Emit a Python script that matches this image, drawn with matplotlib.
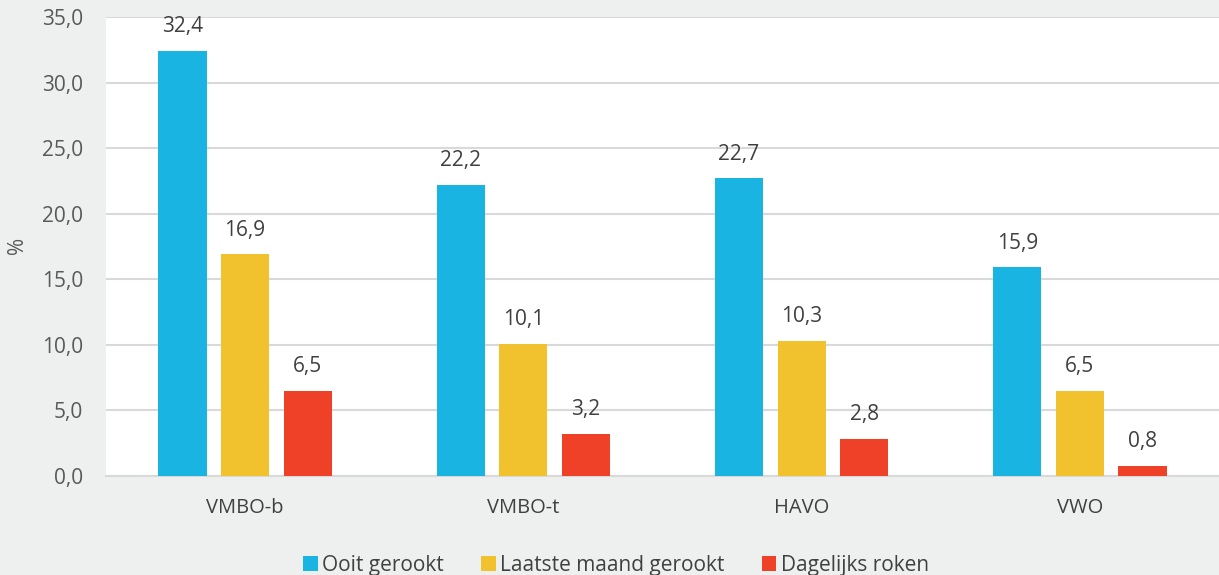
import matplotlib
matplotlib.use("Agg")
import matplotlib.pyplot as plt
import numpy as np

categories = ["VMBO-b", "VMBO-t", "HAVO", "VWO"]
series_names = ["Ooit gerookt", "Laatste maand gerookt", "Dagelijks roken"]
ooit = [32.4, 22.2, 22.7, 15.9]
laatste = [16.9, 10.1, 10.3, 6.5]
dagelijks = [6.5, 3.2, 2.8, 0.8]
colors = ["#1ab4e3", "#f1c22e", "#ef4127"]
yticks = [0, 5, 10, 15, 20, 25, 30, 35]

plt.rcParams['font.family'] = ['Open Sans', 'DejaVu Sans']
txt = "#595959"
dark = "#404040"
bg = "#eef0ef"
fs = 15

fig = plt.figure(figsize=(12.19, 5.75), dpi=100, facecolor=bg)
ax = fig.add_axes([106/1219, 1 - 476/575, 1 - 106/1219, (476 - 17)/575])
ax.set_facecolor("white")

x = np.arange(len(categories))
w = 0.173
step = 0.225
for i, (vals, name) in enumerate(zip([ooit, laatste, dagelijks], series_names)):
    pos = x + (i - 1) * step
    ax.bar(pos, vals, width=w, color=colors[i], label=name, zorder=3)
    for p, v in zip(pos, vals):
        ax.annotate(f"{v:.1f}".replace(".", ","), xy=(p, v), xytext=(0, 17.5),
                    textcoords="offset points", ha="center", va="center",
                    fontsize=fs, color=dark, annotation_clip=False)

ax.set_xlim(-0.5, 3.5)
ax.set_ylim(0, 35)
ax.set_yticks(yticks)
ax.set_yticklabels([f"{t:.1f}".replace(".", ",") for t in yticks], fontsize=fs, color=txt)
ax.set_xticks(x)
ax.set_xticklabels(categories, fontsize=14.5, color=dark)
ax.tick_params(axis="both", length=0)
ax.tick_params(axis="y", pad=16.5)
ax.tick_params(axis="x", pad=16)
ax.grid(axis="y", color="#d9d9d9", linewidth=1.5, zorder=0)
ax.set_axisbelow(True)
for s in ["left", "right", "top"]:
    ax.spines[s].set_visible(False)
ax.spines["bottom"].set_color("#d9d9d9")
ax.spines["bottom"].set_linewidth(1.5)

fig.text(18/1219, 1 - 245/575, "%", rotation=90, ha="center", va="center", fontsize=fs, color=txt)

leg = fig.legend(loc="center", bbox_to_anchor=(616/1219, 1 - 565/575), ncol=3, frameon=False,
                 fontsize=fs, handlelength=0.7, handleheight=0.7, handletextpad=0.2,
                 columnspacing=1.8, labelcolor=dark, borderpad=0)

fig.savefig("out.png", dpi=100, facecolor=bg)
